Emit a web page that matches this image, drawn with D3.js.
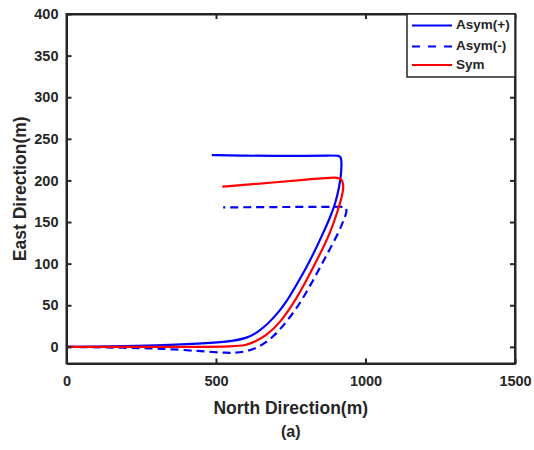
<!DOCTYPE html>
<html>
<head>
<meta charset="utf-8">
<script src="https://cdn.jsdelivr.net/npm/d3@7"></script>
<style>
body{margin:0;background:#fff;}
svg text{font-family:"Liberation Sans",Arial,sans-serif;font-weight:bold;fill:#262626;}
</style>
</head>
<body>
<svg width="534" height="450"></svg>
<script>
// donnees
var asymPlusX=[0,150,300,447,536,603,647,692,736,770,800,825,860,881,900,912,918,920,919,914,880,800,700,600,486];
var asymPlusY=[0,0.5,1.5,4,6,10,19,34,54,75,94,111,138,155,173,192,206,218,227,230,230,229.5,229.3,229.8,230.5];

var asymMinusX=[0,200,313,447,536,591,647,692,736,781,825,860,881,915,931,937,936,928,900,800,700,600,524];
var asymMinusY=[0,-1,-2,-5,-7.5,-7,0,12,30,52,80,103.5,117.5,141,156,162,167,168.5,168.3,168.2,168,167.8,167.5];

var symX=[0,200,447,558,600,625,670,714,759,800,850,881,909,922,927,923,912,800,700,600,521];
var symY=[0,0,0,0.5,2,5,14,29,52,78,113,136,165,182,192,200,205,200.7,197.8,194.8,192.5];

var xTicks=[0,500,1000,1500];
var yTicks=[0,50,100,150,200,250,300,350,400];
var legendNames=["Asym(+)","Asym(-)","Sym"];

var svg=d3.select("svg");
var pLeft=66.5,pRight=515,pTop=14,pBottom=363.5;

var x=d3.scaleLinear().domain([0,1500]).range([pLeft,pRight]);
var y=d3.scaleLinear().domain([-20,400]).range([pBottom,pTop]);

var series=[
  {name:legendNames[0],xs:asymPlusX,ys:asymPlusY,color:"#0000ff",dash:null},
  {name:legendNames[1],xs:asymMinusX,ys:asymMinusY,color:"#0000ff",dash:"8,5"},
  {name:legendNames[2],xs:symX,ys:symY,color:"#ff0000",dash:null}
];

var line=d3.line()
  .x(function(d){return x(d[0]);})
  .y(function(d){return y(d[1]);})
  .curve(d3.curveBasis);

svg.append("clipPath").attr("id","clip")
  .append("rect").attr("x",pLeft).attr("y",pTop).attr("width",pRight-pLeft).attr("height",pBottom-pTop);

//courbes
series.forEach(function(s){
  var pts=s.xs.map(function(v,i){return [v,s.ys[i]];});
  svg.append("path")
    .attr("d",line(pts))
    .attr("fill","none")
    .attr("stroke",s.color)
    .attr("stroke-width",2.2)
    .attr("stroke-dasharray",s.dash)
    .attr("clip-path","url(#clip)");
});

//axes (boite facon matlab, graduations vers l'interieur)
var axisColor="#262626";
var fmt=d3.format("d");
svg.append("g").attr("transform","translate(0,"+pBottom+")")
  .call(d3.axisBottom(x).tickValues(xTicks).tickFormat(fmt).tickSizeInner(-5).tickSizeOuter(0).tickPadding(12))
  .call(styleAxis);
svg.append("g").attr("transform","translate(0,"+pTop+")")
  .call(d3.axisTop(x).tickValues(xTicks).tickSizeInner(-5).tickSizeOuter(0).tickFormat(""))
  .call(styleAxis);
svg.append("g").attr("transform","translate("+pLeft+",0)")
  .call(d3.axisLeft(y).tickValues(yTicks).tickFormat(fmt).tickSizeInner(-5).tickSizeOuter(0).tickPadding(8))
  .call(styleAxis);
svg.append("g").attr("transform","translate("+pRight+",0)")
  .call(d3.axisRight(y).tickValues(yTicks).tickSizeInner(-5).tickSizeOuter(0).tickFormat(""))
  .call(styleAxis);

function styleAxis(g){
  g.select(".domain").attr("stroke",axisColor).attr("stroke-width",2);
  g.selectAll(".tick line").attr("stroke",axisColor).attr("stroke-width",2);
  g.selectAll(".tick text").attr("font-size",14.5).attr("font-family",null).attr("fill",axisColor);
}

svg.append("rect").attr("x",pLeft).attr("y",pTop).attr("width",pRight-pLeft).attr("height",pBottom-pTop)
  .attr("fill","none").attr("stroke",axisColor).attr("stroke-width",2);

//titres des axes
svg.append("text").attr("x",(pLeft+pRight)/2).attr("y",409).attr("text-anchor","middle")
  .attr("dominant-baseline","middle").attr("font-size",17.5).text("North Direction(m)");
svg.append("text").attr("x",(pLeft+pRight)/2).attr("y",433).attr("text-anchor","middle")
  .attr("dominant-baseline","middle").attr("font-size",16).text("(a)");
svg.append("text").attr("transform","translate(21,"+((pTop+pBottom)/2)+") rotate(-90)")
  .attr("text-anchor","middle").attr("dominant-baseline","middle").attr("font-size",17.5).text("East Direction(m)");

//legende
var lg=svg.append("g");
lg.append("rect").attr("x",407).attr("y",14).attr("width",108).attr("height",63)
  .attr("fill","#fff").attr("stroke",axisColor).attr("stroke-width",1.5);
var ly=[25.5,46.5,65];
series.forEach(function(s,i){
  lg.append("line").attr("x1",412).attr("x2",452).attr("y1",ly[i]).attr("y2",ly[i])
    .attr("stroke",s.color).attr("stroke-width",2.2).attr("stroke-dasharray",s.dash?"8,8":null);
  lg.append("text").attr("x",456).attr("y",ly[i]).attr("dominant-baseline","middle")
    .attr("font-size",13.5).text(s.name);
});
</script>
</body>
</html>
